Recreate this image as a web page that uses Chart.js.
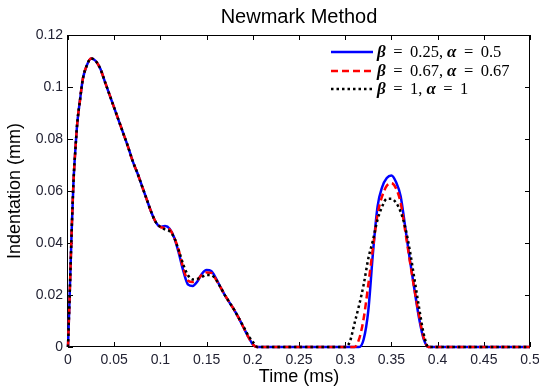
<!DOCTYPE html>
<html>
<head>
<meta charset="utf-8">
<script src="https://cdn.jsdelivr.net/npm/chart.js@4/dist/chart.umd.min.js"></script>
<style>
    body { margin: 0; background: #fff; }
    canvas { display: block; }
</style>
</head>
<body>
<canvas id="newmarkChart" width="539" height="388"></canvas>
<script>
// Datos (tiempo en ms, indentación en mm)
const time = [0, 0.002, 0.004, 0.006, 0.008, 0.01, 0.013, 0.016, 0.02, 0.025,
    0.03, 0.035, 0.04, 0.045, 0.05, 0.055, 0.06, 0.065, 0.07, 0.075,
    0.08, 0.085, 0.09, 0.095, 0.1, 0.105, 0.11, 0.115, 0.12, 0.125,
    0.13, 0.135, 0.14, 0.145, 0.15, 0.155, 0.16, 0.165, 0.17, 0.175,
    0.18, 0.185, 0.19, 0.195, 0.2, 0.205, 0.25, 0.3, 0.305, 0.31,
    0.315, 0.32, 0.325, 0.33, 0.335, 0.34, 0.345, 0.35, 0.355, 0.36,
    0.365, 0.37, 0.375, 0.38, 0.385, 0.39, 0.45, 0.5];

const beta025 = [0, 0.022, 0.045, 0.064, 0.076, 0.086, 0.095, 0.103, 0.108, 0.111,
    0.110, 0.107, 0.102, 0.097, 0.092, 0.087, 0.082, 0.077, 0.0715, 0.067,
    0.062, 0.057, 0.052, 0.048, 0.0462, 0.0465, 0.0455, 0.042, 0.036, 0.029,
    0.024, 0.0235, 0.0252, 0.0282, 0.0296, 0.0292, 0.0265, 0.023, 0.0198, 0.017,
    0.0142, 0.011, 0.0075, 0.004, 0.001, 0, 0, 0, 0, 0,
    0, 0.003, 0.014, 0.036, 0.054, 0.0615, 0.065, 0.066, 0.0635, 0.058,
    0.046, 0.0335, 0.022, 0.011, 0.003, 0, 0, 0];

const beta067 = [0, 0.022, 0.045, 0.064, 0.076, 0.086, 0.095, 0.103, 0.108, 0.111,
    0.110, 0.107, 0.102, 0.097, 0.092, 0.087, 0.082, 0.077, 0.0715, 0.067,
    0.062, 0.057, 0.052, 0.048, 0.0462, 0.0458, 0.0452, 0.042, 0.037, 0.030,
    0.0255, 0.025, 0.0258, 0.0278, 0.0287, 0.0285, 0.026, 0.023, 0.0198, 0.017,
    0.0142, 0.011, 0.0075, 0.004, 0.001, 0, 0, 0, 0, 0,
    0.003, 0.011, 0.024, 0.038, 0.051, 0.058, 0.062, 0.063, 0.061, 0.0555,
    0.0445, 0.033, 0.022, 0.012, 0.0035, 0, 0, 0];

const beta1 = [0, 0.022, 0.045, 0.064, 0.076, 0.086, 0.095, 0.103, 0.108, 0.111,
    0.110, 0.107, 0.102, 0.097, 0.092, 0.087, 0.082, 0.077, 0.0715, 0.067,
    0.062, 0.057, 0.052, 0.048, 0.0462, 0.0452, 0.0445, 0.042, 0.037, 0.0315,
    0.0275, 0.026, 0.0262, 0.027, 0.0277, 0.0276, 0.026, 0.023, 0.0198, 0.017,
    0.0142, 0.011, 0.0078, 0.0045, 0.002, 0, 0, 0, 0.002, 0.009,
    0.016, 0.024, 0.034, 0.041, 0.049, 0.054, 0.057, 0.057, 0.0555, 0.052,
    0.046, 0.037, 0.026, 0.015, 0.005, 0, 0, 0];

const seriesLabels = ['β = 0.25, α = 0.5', 'β = 0.67, α = 0.67', 'β = 1, α = 1'];
const xTicks = [0, 0.05, 0.1, 0.15, 0.2, 0.25, 0.3, 0.35, 0.4, 0.45, 0.5];
const yTicks = [0, 0.02, 0.04, 0.06, 0.08, 0.1, 0.12];

function toPoints(values) {
    return time.map((t, i) => ({ x: t, y: values[i] }));
}

// Caja del gráfico y marcas hacia dentro (estilo MATLAB)
const framePlugin = {
    id: 'frame',
    beforeDatasetsDraw(chart) {
        const { ctx, chartArea: a, scales: { x, y } } = chart;
        ctx.save();
        ctx.strokeStyle = '#000';
        ctx.lineWidth = 1;
        ctx.strokeRect(Math.round(a.left) - 0.5, Math.round(a.top) + 0.5,
            Math.round(a.right - a.left), Math.round(a.bottom - a.top) - 1);
        ctx.beginPath();
        xTicks.forEach(v => {
            const px = Math.round(x.getPixelForValue(v)) + 0.5;
            ctx.moveTo(px, a.bottom); ctx.lineTo(px, a.bottom - 5);
            ctx.moveTo(px, a.top); ctx.lineTo(px, a.top + 5);
        });
        yTicks.forEach(v => {
            const py = Math.round(y.getPixelForValue(v)) + 0.5;
            ctx.moveTo(a.left, py); ctx.lineTo(a.left + 5, py);
            ctx.moveTo(a.right, py); ctx.lineTo(a.right - 5, py);
        });
        ctx.stroke();
        ctx.restore();
    }
};

// Texto de la leyenda con letras griegas en negrita cursiva
function drawLabel(ctx, text, x, y) {
    let prev = '';
    for (const ch of text) {
        if (ch === ' ') {
            x += prev === ',' ? 4 : 7.5;
        } else {
            const greek = /[α-ω]/.test(ch);
            ctx.font = greek ? 'italic bold 17px "Liberation Serif"' : '16.5px "Liberation Serif"';
            ctx.fillText(ch, x, y);
            x += ctx.measureText(ch).width;
        }
        prev = ch;
    }
}

const legendPlugin = {
    id: 'mathLegend',
    afterDatasetsDraw(chart) {
        const { ctx, chartArea: a } = chart;
        const rows = [a.top + 17, a.top + 36, a.top + 54];
        ctx.save();
        chart.data.datasets.forEach((ds, i) => {
            const y = rows[i];
            ctx.strokeStyle = ds.borderColor;
            ctx.lineWidth = ds.borderWidth;
            ctx.setLineDash(ds.borderDash || []);
            ctx.beginPath();
            ctx.moveTo(a.right - 199, y);
            ctx.lineTo(a.right - 157, y);
            ctx.stroke();
            ctx.setLineDash([]);
            ctx.fillStyle = '#000';
            ctx.textBaseline = 'middle';
            drawLabel(ctx, ds.label, a.right - 153, y + 1);
        });
        ctx.restore();
    }
};

function fmt(v) {
    return String(Number(v.toFixed(2)));
}

new Chart(document.getElementById('newmarkChart').getContext('2d'), {
    type: 'line',
    data: {
        datasets: [
            {
                label: seriesLabels[0],
                data: toPoints(beta025),
                borderColor: '#0000ff',
                borderWidth: 2.5,
                order: 3
            },
            {
                label: seriesLabels[1],
                data: toPoints(beta067),
                borderColor: '#ff0000',
                borderWidth: 2.5,
                borderDash: [7, 4],
                order: 2
            },
            {
                label: seriesLabels[2],
                data: toPoints(beta1),
                borderColor: '#000000',
                borderWidth: 2.5,
                borderDash: [2.5, 3],
                order: 1
            }
        ]
    },
    options: {
        responsive: false,
        animation: false,
        layout: { padding: { left: 0, right: 9, top: 0, bottom: 0 } },
        elements: {
            point: { radius: 0 },
            line: { cubicInterpolationMode: 'monotone', fill: false }
        },
        datasets: { line: { clip: 3 } },
        plugins: {
            legend: { display: false },
            tooltip: { enabled: false },
            title: {
                display: true,
                fullSize: false,
                text: 'Newmark Method',
                color: '#000',
                font: { family: '"Liberation Sans", Arial', size: 20, weight: 'normal', lineHeight: 1 },
                padding: { top: 7, bottom: 8 }
            }
        },
        scales: {
            x: {
                type: 'linear',
                min: 0,
                max: 0.5,
                afterBuildTicks(scale) {
                    scale.ticks = xTicks.map(v => ({ value: v }));
                },
                afterFit(scale) {
                    scale.height = 41;
                    scale.paddingLeft = 0;
                    scale.paddingRight = 0;
                },
                grid: { display: false, drawTicks: false },
                border: { display: false },
                ticks: {
                    padding: 5,
                    maxRotation: 0,
                    autoSkip: false,
                    color: '#222233',
                    font: { family: '"Liberation Sans", Arial', size: 14 },
                    callback: v => fmt(v)
                },
                title: {
                    display: true,
                    text: 'Time (ms)',
                    color: '#000',
                    font: { family: '"Liberation Sans", Arial', size: 18 },
                    padding: { top: 0, bottom: 0 }
                }
            },
            y: {
                type: 'linear',
                min: 0,
                max: 0.12,
                afterBuildTicks(scale) {
                    scale.ticks = yTicks.map(v => ({ value: v }));
                },
                afterFit(scale) {
                    scale.width = 68;
                    scale.paddingTop = 0;
                    scale.paddingBottom = 0;
                },
                grid: { display: false, drawTicks: false },
                border: { display: false },
                ticks: {
                    padding: 5,
                    autoSkip: false,
                    color: '#222233',
                    font: { family: '"Liberation Sans", Arial', size: 14 },
                    callback: v => fmt(v)
                },
                title: {
                    display: true,
                    text: 'Indentation (mm)',
                    color: '#000',
                    font: { family: '"Liberation Sans", Arial', size: 18 },
                    padding: { top: 4, bottom: 0 }
                }
            }
        }
    },
    plugins: [framePlugin, legendPlugin]
});
</script>
</body>
</html>
